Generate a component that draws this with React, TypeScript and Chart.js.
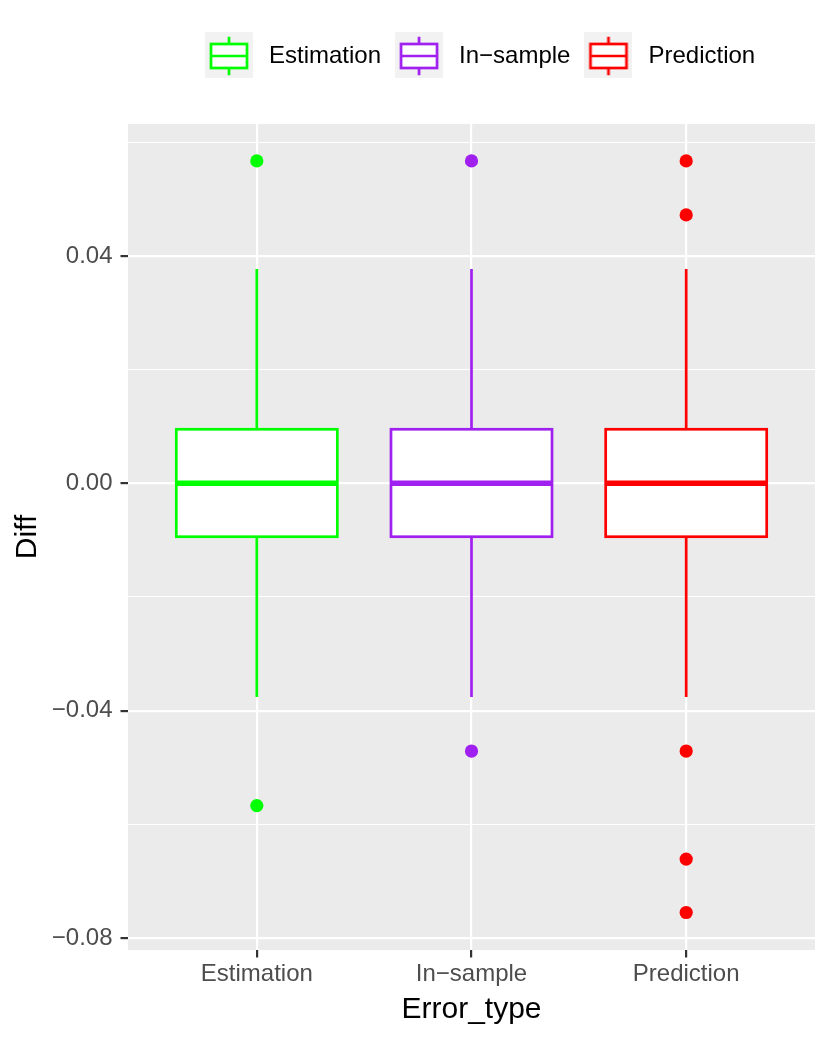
import React, { useEffect, useRef } from 'react';
import { Chart, registerables } from 'chart.js';

Chart.register(...registerables);

// ---- data ----
const categories = ['Estimation', 'In-sample', 'Prediction'];
const seriesColors = ['#00FF00', '#A020F0', '#FF0000'];
const whiskerLow = [-0.0376, -0.0376, -0.0376];
const q1 = [-0.0094, -0.0094, -0.0094];
const medians = [0, 0, 0];
const q3 = [0.0095, 0.0095, 0.0095];
const whiskerHigh = [0.0377, 0.0377, 0.0377];
const estimationOutliers = [0.0567, -0.0567];
const inSampleOutliers = [0.0567, -0.0471];
const predictionOutliers = [0.0567, 0.0472, -0.0471, -0.0661, -0.0755];
const outliers = [estimationOutliers, inSampleOutliers, predictionOutliers];
const yTicks = [-0.08, -0.06, -0.04, -0.02, 0, 0.02, 0.04, 0.06];
const yMajorTicks = [-0.08, -0.04, 0, 0.04];
const yMin = -0.0821;
const yMax = 0.0632;
const xMin = 0.4;
const xMax = 3.6;
const boxWidthUnits = 0.75;
const xTitle = 'Error_type';
const yTitle = 'Diff';

const FONT = '"Liberation Sans", Arial, Helvetica, sans-serif';
const disp = (s: string) => s.replace('-', '\u2212');
const isMajor = (v: number) => yMajorTicks.some((m) => Math.abs(m - v) < 1e-9);
const fmtY = (v: number) => (v < -1e-12 ? '\u2212' : '') + Math.abs(v).toFixed(2);

function makeKeyGlyph(color: string): HTMLCanvasElement {
  const c = document.createElement('canvas');
  const s = 48;
  c.width = s;
  c.height = s;
  const g = c.getContext('2d')!;
  g.fillStyle = '#F2F2F2';
  g.fillRect(0, 0, s, s);
  g.strokeStyle = color;
  g.lineWidth = 2.7;
  g.beginPath();
  g.moveTo(s / 2, s * 0.1);
  g.lineTo(s / 2, s * 0.25);
  g.moveTo(s / 2, s * 0.75);
  g.lineTo(s / 2, s * 0.9);
  g.stroke();
  g.fillStyle = '#FFFFFF';
  g.fillRect(s * 0.125, s * 0.25, s * 0.75, s * 0.5);
  g.strokeRect(s * 0.125, s * 0.25, s * 0.75, s * 0.5);
  g.beginPath();
  g.moveTo(s * 0.125, s * 0.5);
  g.lineTo(s * 0.875, s * 0.5);
  g.stroke();
  return c;
}

const panelBg = {
  id: 'panelBg',
  beforeDraw(chart: any) {
    const { ctx, chartArea: a } = chart;
    ctx.save();
    ctx.fillStyle = '#EBEBEB';
    ctx.fillRect(a.left, a.top, a.right - a.left, a.bottom - a.top);
    ctx.restore();
  },
};

const boxPlot = {
  id: 'boxPlot',
  beforeDatasetsDraw(chart: any) {
    const { ctx } = chart;
    const x = chart.scales.x;
    const y = chart.scales.y;
    ctx.save();
    categories.forEach((_, i) => {
      const cx = x.getPixelForValue(i + 1);
      const left = x.getPixelForValue(i + 1 - boxWidthUnits / 2);
      const right = x.getPixelForValue(i + 1 + boxWidthUnits / 2);
      const top = y.getPixelForValue(q3[i]);
      const bottom = y.getPixelForValue(q1[i]);
      ctx.strokeStyle = seriesColors[i];
      ctx.lineWidth = 2.7;
      ctx.lineCap = 'butt';
      ctx.beginPath();
      ctx.moveTo(cx, top);
      ctx.lineTo(cx, y.getPixelForValue(whiskerHigh[i]));
      ctx.moveTo(cx, bottom);
      ctx.lineTo(cx, y.getPixelForValue(whiskerLow[i]));
      ctx.stroke();
      ctx.fillStyle = '#FFFFFF';
      ctx.fillRect(left, top, right - left, bottom - top);
      ctx.strokeRect(left, top, right - left, bottom - top);
      const my = y.getPixelForValue(medians[i]);
      ctx.lineWidth = 5.4;
      ctx.beginPath();
      ctx.moveTo(left, my);
      ctx.lineTo(right, my);
      ctx.stroke();
    });
    ctx.restore();
  },
};

const legendPlace = {
  id: 'legendPlace',
  afterLayout(chart: any) {
    const lg = chart.legend;
    if (!lg) return;
    const w = lg.right - lg.left;
    lg.left = 191;
    lg.right = 191 + w;
  },
};

export default function App() {
  const ref = useRef<HTMLCanvasElement>(null);

  useEffect(() => {
    if (!ref.current) return;
    const glyphs = seriesColors.map((c) => makeKeyGlyph(c));
    const chart = new Chart(ref.current, {
      type: 'scatter',
      data: {
        datasets: categories.map((c, i) => ({
          label: disp(c),
          data: outliers[i].map((v) => ({ x: i + 1, y: v })),
          backgroundColor: seriesColors[i],
          borderColor: seriesColors[i],
          pointRadius: 6.6,
          pointHoverRadius: 6.6,
          pointBorderWidth: 0,
          xAxisID: 'x',
          yAxisID: 'y',
        })),
      },
      options: {
        responsive: false,
        animation: false,
        events: [],
        layout: { padding: { top: 0, right: 15, bottom: 0, left: 0 } },
        plugins: {
          tooltip: { enabled: false },
          legend: {
            display: true,
            position: 'top',
            align: 'start',
            title: { display: true, text: '', font: { size: 10, family: FONT }, padding: { top: 0, bottom: 22 } },
            labels: {
              usePointStyle: true,
              pointStyleWidth: 56,
              padding: 10,
              color: '#000000',
              font: { family: FONT, size: 24 },
              generateLabels: () =>
                categories.map((c, i) => ({
                  text: disp(c),
                  pointStyle: glyphs[i] as any,
                  fillStyle: seriesColors[i],
                  strokeStyle: seriesColors[i],
                  lineWidth: 0,
                  hidden: false,
                  datasetIndex: i,
                  fontColor: '#000000',
                })),
            },
          },
        },
        scales: {
          x: {
            type: 'linear',
            position: 'bottom',
            min: xMin,
            max: xMax,
            afterBuildTicks: (s: any) => {
              s.ticks = categories.map((_, i) => ({ value: i + 1 }));
            },
            afterFit: (s: any) => {
              s.height = 88;
            },
            grid: {
              color: '#FFFFFF',
              lineWidth: 2.2,
              drawTicks: true,
              tickLength: 7.5,
              tickColor: '#333333',
              tickWidth: 2.2,
            },
            border: { display: false },
            ticks: {
              autoSkip: false,
              maxRotation: 0,
              minRotation: 0,
              padding: 2.5,
              color: '#4D4D4D',
              font: { family: FONT, size: 24 },
              callback: (v: any) => {
                const idx = Math.round(Number(v)) - 1;
                return categories[idx] !== undefined ? disp(categories[idx]) : '';
              },
            },
            title: {
              display: true,
              text: xTitle,
              color: '#000000',
              font: { family: FONT, size: 30 },
              padding: { top: 0, bottom: 10.5 },
            },
          },
          xTop: {
            type: 'linear',
            position: 'top',
            min: xMin,
            max: xMax,
            display: true,
            grid: { display: false, drawTicks: false },
            border: { display: false },
            ticks: { display: false },
            afterFit: (s: any) => {
              s.height = 46;
            },
          },
          y: {
            type: 'linear',
            position: 'left',
            min: yMin,
            max: yMax,
            afterBuildTicks: (s: any) => {
              s.ticks = yTicks.map((v) => ({ value: v }));
            },
            afterFit: (s: any) => {
              s.width = 128;
            },
            grid: {
              color: '#FFFFFF',
              lineWidth: (ctx: any) => (ctx.tick && isMajor(ctx.tick.value) ? 2.2 : 1.1),
              drawTicks: true,
              tickLength: 7.5,
              tickColor: (ctx: any) => (ctx.tick && isMajor(ctx.tick.value) ? '#333333' : 'rgba(0,0,0,0)'),
              tickWidth: (ctx: any) => (ctx.tick && isMajor(ctx.tick.value) ? 2.2 : 1.1),
            },
            border: { display: false },
            ticks: {
              autoSkip: false,
              padding: 8,
              color: '#4D4D4D',
              font: { family: FONT, size: 24 },
              callback: (v: any) => (isMajor(Number(v)) ? fmtY(Number(v)) : ''),
            },
            title: {
              display: true,
              text: yTitle,
              color: '#000000',
              font: { family: FONT, size: 30 },
              padding: { top: 10, bottom: 0 },
            },
          },
        },
      } as any,
      plugins: [panelBg, boxPlot, legendPlace],
    });
    return () => chart.destroy();
  }, []);

  return (
    <div style={{ position: 'absolute', left: 0, top: 0, width: 830, height: 1038, background: '#FFFFFF' }}>
      <canvas ref={ref} width={830} height={1038} style={{ display: 'block' }} />
    </div>
  );
}
